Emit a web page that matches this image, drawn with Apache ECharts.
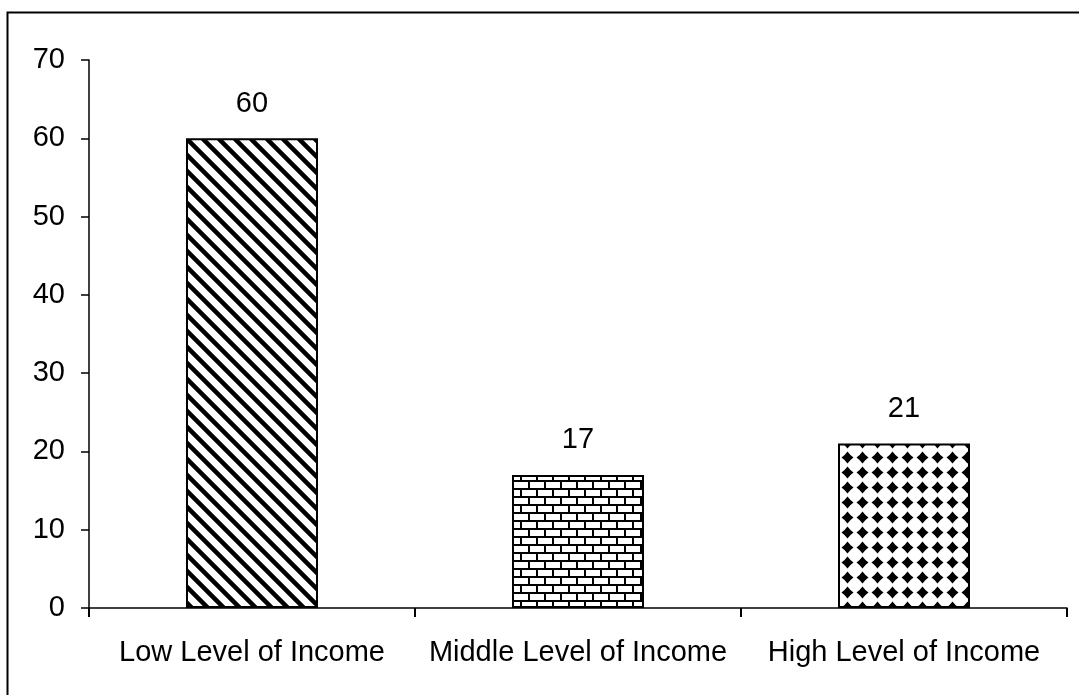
<!DOCTYPE html>
<html>
<head>
<meta charset="utf-8">
<script src="https://cdn.jsdelivr.net/npm/echarts@6/dist/echarts.min.js"></script>
<style>
  html, body { margin: 0; padding: 0; background: #fff; }
  #chart { width: 1079px; height: 695px; }
</style>
</head>
<body>
<div id="chart"></div>
<script>
const categories = ['Low Level of Income', 'Middle Level of Income', 'High Level of Income'];
const values = [60, 17, 21];
const yTicks = [0, 10, 20, 30, 40, 50, 60, 70];

// hatch patterns drawn on small canvases
function makeTile(w, h, draw) {
  const c = document.createElement('canvas');
  c.width = w;
  c.height = h;
  const ctx = c.getContext('2d');
  ctx.fillStyle = '#fff';
  ctx.fillRect(0, 0, w, h);
  draw(ctx, w, h);
  return c;
}

const diagonal = makeTile(16, 16, (ctx, w, h) => {
  ctx.strokeStyle = '#000';
  ctx.lineWidth = 4.5;
  ctx.beginPath();
  ctx.moveTo(-w, -h); ctx.lineTo(2 * w, 2 * h);
  ctx.moveTo(-w, 0); ctx.lineTo(w, 2 * h);
  ctx.moveTo(0, -h); ctx.lineTo(2 * w, h);
  ctx.stroke();
});

const brick = makeTile(16, 16, (ctx, w, h) => {
  ctx.fillStyle = '#000';
  ctx.fillRect(0, 0, w, 2);
  ctx.fillRect(0, 8, w, 2);
  ctx.fillRect(0, 0, 2, 8);
  ctx.fillRect(8, 8, 2, 8);
});

const diamonds = makeTile(15, 15, (ctx, w, h) => {
  ctx.fillStyle = '#000';
  ctx.beginPath();
  ctx.moveTo(7.5, 1.5);
  ctx.quadraticCurveTo(10, 5, 13.5, 7.5);
  ctx.quadraticCurveTo(10, 10, 7.5, 13.5);
  ctx.quadraticCurveTo(5, 10, 1.5, 7.5);
  ctx.quadraticCurveTo(5, 5, 7.5, 1.5);
  ctx.fill();
});

const patterns = [diagonal, brick, diamonds];

const myChart = echarts.init(document.getElementById('chart'));
myChart.setOption({
  animation: false,
  textStyle: { fontFamily: 'Liberation Sans, Arial, sans-serif' },
  graphic: [{
    type: 'rect',
    shape: { x: 7.5, y: 12.5, width: 1090, height: 700 },
    style: { fill: 'none', stroke: '#000', lineWidth: 2 },
    silent: true
  }],
  grid: { left: 89, right: 12, top: 60, bottom: 87 },
  xAxis: {
    type: 'category',
    data: categories,
    axisLine: { lineStyle: { color: '#000', width: 1.5 } },
    axisTick: { show: true, length: 9, lineStyle: { color: '#000', width: 2 } },
    axisLabel: { color: '#000', fontSize: 29, margin: 30, interval: 0, hideOverlap: false }
  },
  yAxis: {
    type: 'value',
    min: yTicks[0],
    max: yTicks[yTicks.length - 1],
    interval: 10,
    splitLine: { show: false },
    axisLine: { show: true, lineStyle: { color: '#000', width: 1.5 } },
    axisTick: { show: true, length: 8, lineStyle: { color: '#000', width: 1.5 } },
    axisLabel: { color: '#000', fontSize: 29, margin: 24 }
  },
  series: [{
    type: 'bar',
    barWidth: 132,
    data: values.map((v, i) => ({
      value: v,
      itemStyle: { color: { image: patterns[i], repeat: 'repeat' } }
    })),
    itemStyle: { borderColor: '#000', borderWidth: 2 },
    label: { show: true, position: 'top', distance: 20, color: '#000', fontSize: 29 }
  }]
});
</script>
</body>
</html>
